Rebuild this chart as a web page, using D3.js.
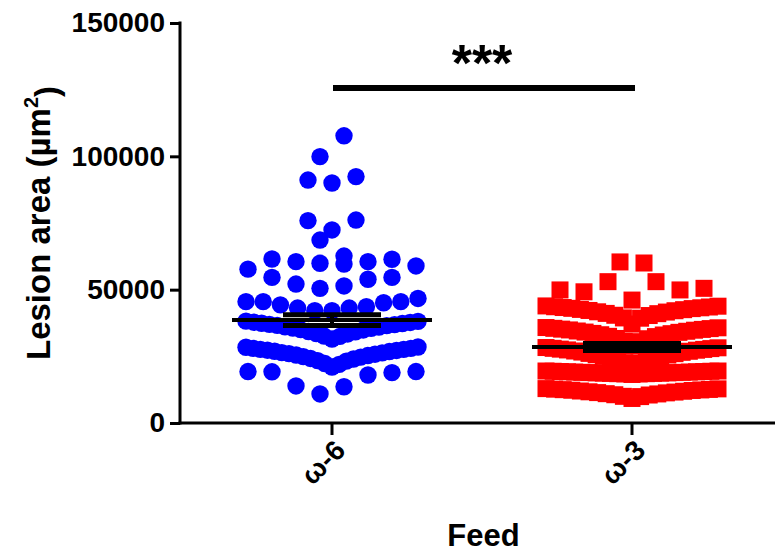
<!DOCTYPE html>
<html>
<head>
<meta charset="utf-8">
<script src="https://cdn.jsdelivr.net/npm/d3@7"></script>
<style>
  html, body { margin: 0; padding: 0; background: #fff; }
  svg { display: block; font-family: "Liberation Sans", Arial, sans-serif; }
</style>
</head>
<body>
<div id="container"></div>
<script>
// --- Data (µm²), each inner list is one scatter row, left to right ---
const groups = ["ω-6", "ω-3"];
const groupColors = ["#0000ff", "#ff0000"];

const omega6Rows = [
  [19300, 19200, 13900, 10900, 13600, 18000, 18900, 19300],
  [28400, 28000, 27600, 27300, 26900, 26400, 26000, 25500, 24900, 24200, 23400, 22300, 21000,
   22000, 23200, 24000, 24700, 25300, 25800, 26300, 26800, 27200, 27600, 28000, 28500],
  [38200, 37800, 37400, 37000, 36600, 36100, 35600, 35000, 34300, 33500, 32600, 31500,
   32500, 33400, 34200, 34900, 35500, 36000, 36500, 36900, 37300, 37700, 38100],
  [45500, 45500, 44300, 43100, 42100, 42100, 43100, 43600, 45100, 45500, 46700],
  [54600, 52100, 50500, 51400, 53900, 54600],
  [57700, 61500, 60500, 59900, 59600, 60500, 61400, 58900],
  [68600, 62600],
  [75900, 72400, 76100],
  [91100, 90000, 92400],
  [99900, 107700]
];

const omega3Rows = [
  [12900, 12700, 12500, 12300, 12000, 11700, 11400, 11000, 10600, 10000, 9200,
   9900, 10500, 10900, 11300, 11600, 11900, 12200, 12400, 12600, 12800],
  [19500, 19400, 19300, 19200, 19100, 19000, 18900, 18800, 18700, 18600, 18500, 18400, 18200,
   18400, 18500, 18600, 18700, 18800, 18900, 19000, 19100, 19200, 19300, 19400, 19500],
  [28300, 28000, 27700, 27400, 27000, 26600, 26100, 25600, 25000, 24300, 23500, 22600, 21400,
   22500, 23400, 24200, 24900, 25500, 26000, 26500, 26900, 27300, 27600, 27900, 28200],
  [35800, 35500, 35200, 34900, 34500, 34100, 33600, 33100, 32500, 31700, 30600, 28900,
   30500, 31600, 32400, 33000, 33500, 34000, 34400, 34800, 35100, 35400, 35700],
  [43900, 43600, 43300, 43000, 42600, 42200, 41700, 41100, 40400, 39400, 37100,
   39300, 40300, 41000, 41600, 42100, 42500, 42900, 43200, 43500, 43800],
  [49900, 49200, 53000, 46100, 53000, 49900, 50500],
  [60400, 60000]
];

const groupMeans = [38600, 28500];
const groupSems = [2000, 1300];

const yTicks = [0, 50000, 100000, 150000];
const yTitle = "Lesion area (µm";
const xTitle = "Feed";
const sigLabel = "***";

// --- Layout ---
const width = 775, height = 555;
const plot = { left: 180, top: 23, bottom: 423, right: 782 };

const svg = d3.select("#container").append("svg")
  .attr("width", width).attr("height", height);

const x = d3.scaleBand().domain(groups).range([plot.left + 2, plot.right]);
const y = d3.scaleLinear().domain([0, 150000]).range([plot.bottom, plot.top]);
const cx = g => x(g) + x.bandwidth() / 2;

// spread the points of one row around the group centre, squeezed when the row is long
const rowStep = n => n > 1 ? Math.min(24, 172 / (n - 1)) : 0;
const toPoints = (rows, gi) => rows.flatMap(row =>
  row.map((v, i) => ({ gi, v, x: cx(groups[gi]) + (i - (row.length - 1) / 2) * rowStep(row.length) })));

const blue = toPoints(omega6Rows, 0);
const red = toPoints(omega3Rows, 1);

svg.append("g").selectAll("circle").data(blue).join("circle")
  .attr("cx", d => d.x).attr("cy", d => y(d.v)).attr("r", 8.7)
  .attr("fill", groupColors[0]);

const sq = 17;
svg.append("g").selectAll("rect").data(red).join("rect")
  .attr("x", d => d.x - sq / 2).attr("y", d => y(d.v) - sq / 2)
  .attr("width", sq).attr("height", sq)
  .attr("fill", groupColors[1]);

// --- Mean line with SEM bars ---
const err = svg.append("g").attr("stroke", "#000");
groups.forEach((g, i) => {
  const c = cx(g), m = groupMeans[i], s = groupSems[i];
  err.append("line").attr("x1", c - 100).attr("x2", c + 100)
    .attr("y1", y(m)).attr("y2", y(m)).attr("stroke-width", 4);
  err.append("line").attr("x1", c).attr("x2", c)
    .attr("y1", y(m + s)).attr("y2", y(m - s)).attr("stroke-width", 4);
  [m + s, m - s].forEach(v => {
    err.append("line").attr("x1", c - 49).attr("x2", c + 49)
      .attr("y1", y(v)).attr("y2", y(v)).attr("stroke-width", 5);
  });
});

// --- Axes ---
const yAxis = svg.append("g").attr("transform", `translate(${plot.left},0)`)
  .call(d3.axisLeft(y).tickValues(yTicks).tickFormat(d3.format("d"))
    .tickSize(10).tickSizeOuter(0).tickPadding(5));
yAxis.select(".domain").attr("stroke-width", 3).attr("d", `M0,${plot.top - 1.5}V${plot.bottom + 1.5}`);
yAxis.selectAll(".tick line").attr("stroke-width", 3);
yAxis.selectAll("text").attr("fill", "#000")
  .style("font-size", "28px").style("font-weight", "bold").style("font-family", "Liberation Sans, Arial, sans-serif");

const xAxis = svg.append("g").attr("transform", `translate(0,${plot.bottom})`)
  .call(d3.axisBottom(x).tickSize(12).tickSizeOuter(0));
xAxis.select(".domain").attr("stroke-width", 3).attr("d", `M${plot.left - 1.5},0H${width}`);
xAxis.selectAll(".tick line").attr("stroke-width", 3);
xAxis.selectAll("text")
  .attr("fill", "#000").attr("text-anchor", "end")
  .attr("transform", "translate(8,22) rotate(-45)").attr("dy", "0.35em").attr("y", 0)
  .style("font-size", "28px").style("font-weight", "bold").style("font-family", "Liberation Sans, Arial, sans-serif");

// --- Axis titles ---
const yt = svg.append("text")
  .attr("transform", "rotate(-90)")
  .attr("x", -(plot.top + plot.bottom) / 2).attr("y", 50)
  .attr("text-anchor", "middle").attr("fill", "#000")
  .style("font-size", "33px").style("font-weight", "bold");
yt.append("tspan").text(yTitle);
yt.append("tspan").attr("dy", "-0.6em").style("font-size", "20px").text("2");
yt.append("tspan").attr("dy", "0.6em").text(")");

svg.append("text")
  .attr("x", (plot.left + width) / 2 + 6).attr("y", 546)
  .attr("text-anchor", "middle").attr("fill", "#000")
  .style("font-size", "31px").style("font-weight", "bold")
  .text(xTitle);

// --- Significance bar ---
svg.append("line")
  .attr("x1", cx(groups[0]) + 1).attr("x2", cx(groups[1]) + 3)
  .attr("y1", 88).attr("y2", 88)
  .attr("stroke", "#000").attr("stroke-width", 6);
svg.append("text")
  .attr("x", (cx(groups[0]) + cx(groups[1])) / 2).attr("y", 81)
  .attr("text-anchor", "middle").attr("fill", "#000")
  .style("font-size", "52px").style("font-weight", "bold")
  .text(sigLabel);
</script>
</body>
</html>
